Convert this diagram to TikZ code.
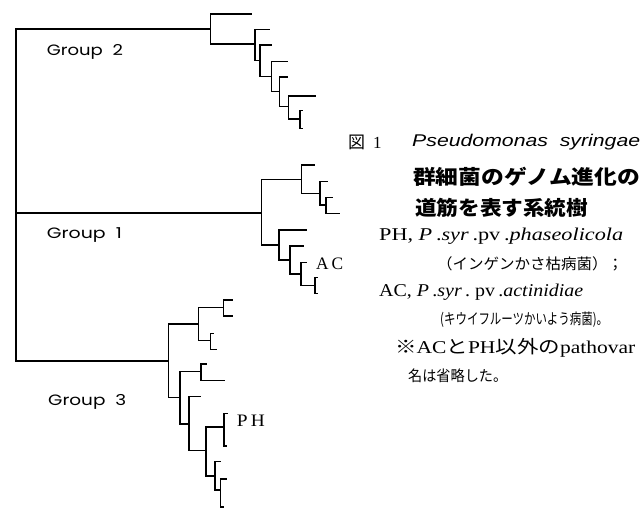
\documentclass[tikz,border=0pt]{standalone}
\usepackage{fontspec}
\usepackage{graphicx}
\setmainfont{Liberation Serif}
\newfontfamily\cjk{Noto Sans CJK JP}
\newfontfamily\grpfont{Poppins}
\newfontfamily\spfont{Liberation Sans}
\newsavebox\fitbox
\newcommand\fitto[2]{\sbox\fitbox{#2}\pgfmathsetmacro\myfitf{#1/\the\wd\fitbox}\scalebox{\myfitf}[1]{\usebox\fitbox}}
\tikzset{
  br/.style={line width=1.5pt, line join=miter},
  lbl/.style={anchor=west, inner sep=0pt},
}
\begin{document}
\begin{tikzpicture}[x=1pt,y=-1pt]
\path[use as bounding box] (0,0) rectangle (643,509);
% root and group stems
\coordinate (R) at (16,213);
\coordinate (G2) at (210.7,29);
\coordinate (G1) at (261.7,213);
\coordinate (G3) at (168.3,361);
% group 2
\coordinate (a1) at (252,14);
\coordinate (nb) at (255,44);
\coordinate (nb1) at (270,29.3);
\coordinate (nc) at (260,60.7);
\coordinate (nc1) at (272.3,45);
\coordinate (nd) at (271.7,76.7);
\coordinate (nd1) at (288.3,61.7);
\coordinate (ne) at (279.3,91.7);
\coordinate (ne1) at (288,77);
\coordinate (nf) at (288.3,106.7);
\coordinate (nf1) at (315.7,96);
\coordinate (ng) at (300,119);
\coordinate (ng1) at (303,110.7);
\coordinate (ng2) at (303,128.3);
% group 1
\coordinate (nh) at (301.7,179.3);
\coordinate (nh1) at (315,165);
\coordinate (ni) at (320,193.3);
\coordinate (ni1) at (328,181.7);
\coordinate (nj) at (326,205);
\coordinate (nj1) at (333,197.7);
\coordinate (nj2) at (340,213.3);
\coordinate (nk) at (279,245);
\coordinate (nk1) at (307.3,230);
\coordinate (nm) at (290,260);
\coordinate (nm1) at (304,246);
\coordinate (nn) at (301,274);
\coordinate (nn1) at (307.3,262.7);
\coordinate (no) at (315,285.7);
\coordinate (no1) at (318,277.7);
\coordinate (no2) at (318,293.3);
% group 3
\coordinate (np) at (198.3,324);
\coordinate (nq) at (223.3,307.3);
\coordinate (nq1) at (233,300);
\coordinate (nq2) at (233,316);
\coordinate (nr) at (210.5,340.7);
\coordinate (nr1) at (214,333.3);
\coordinate (nr2) at (216.5,349.3);
\coordinate (ns) at (180,397.3);
\coordinate (nt) at (201,371.7);
\coordinate (nt1) at (206.7,364);
\coordinate (nt2) at (225,380.7);
\coordinate (nu) at (189,424);
\coordinate (nu1) at (200.7,396.7);
\coordinate (nv) at (206,450.7);
\coordinate (nw) at (224,427);
\coordinate (nw1) at (228,413.3);
\coordinate (nw2) at (227,446);
\coordinate (nx) at (215,476);
\coordinate (nx1) at (221,461.7);
\coordinate (ny) at (220.5,490);
\coordinate (ny1) at (226.7,479);
\coordinate (ny2) at (224,507);
\foreach \p/\c in {R/G2,R/G1,R/G3,
  G2/a1,G2/nb,nb/nb1,nb/nc,nc/nc1,nc/nd,nd/nd1,nd/ne,ne/ne1,ne/nf,nf/nf1,nf/ng,ng/ng1,ng/ng2,
  G1/nh,G1/nk,nh/nh1,nh/ni,ni/ni1,ni/nj,nj/nj1,nj/nj2,nk/nk1,nk/nm,nm/nm1,nm/nn,nn/nn1,nn/no,no/no1,no/no2,
  G3/np,G3/ns,np/nq,np/nr,nq/nq1,nq/nq2,nr/nr1,nr/nr2,ns/nt,ns/nu,nt/nt1,nt/nt2,nu/nu1,nu/nv,nv/nw,nv/nx,nw/nw1,nw/nw2,nx/nx1,nx/ny,ny/ny1,ny/ny2}
  \draw[br] (\p) |- (\c);
% group labels
\node[lbl] (grp2) at (46.7,51.7) {\grpfont\fontsize{15}{15}\selectfont\fitto{76}{Group\ \ 2}};
\node[lbl] (grp1) at (46.7,235) {\grpfont\fontsize{15}{15}\selectfont\fitto{75}{Group\ \ 1}};
\node[lbl] (grp3) at (48,401.7) {\grpfont\fontsize{15}{15}\selectfont\fitto{78}{Group\ \ 3}};
\node[lbl] (ac) at (316,264) {\fontsize{17.5}{17.5}\selectfont\fitto{27}{A\,C}};
\node[lbl] (ph) at (236.7,420.7) {\fontsize{17.5}{17.5}\selectfont\fitto{28}{P\,H}};
% caption
\node[lbl] (l1a) at (348,142) {\fontsize{17}{17}\selectfont{\cjk 図}\hspace{8pt}1};
\node[lbl] (l1b) at (412,142) {\spfont\itshape\fontsize{17}{17}\selectfont\fitto{228}{Pseudomonas\ \ syringae}};
\node[lbl] (l2) at (413,177) {\cjk\bfseries\fontsize{20}{20}\selectfont\fitto{227}{群細菌のゲノム進化の}};
\node[lbl] (l3) at (415,208) {\cjk\bfseries\fontsize{20}{20}\selectfont\fitto{173}{道筋を表す系統樹}};
\node[lbl] (l4) at (379,236) {\fontsize{18}{18}\selectfont\fitto{244}{PH,\ \textit{P}\,.\textit{syr}\,.pv\,.\textit{phaseolicola}}};
\node[lbl] (l5) at (437,264) {\cjk\fontsize{15}{15}\selectfont\fitto{186}{（インゲンかさ枯病菌）；}};
\node[lbl] (l6) at (379,292) {\fontsize{18}{18}\selectfont\fitto{204}{AC,\ \textit{P}\,.\textit{syr}\,.\ pv\,.\textit{actinidiae}}};
\node[lbl] (l7) at (440,320) {\cjk\fontsize{15}{15}\selectfont\fitto{168}{(キウイフルーツかいよう病菌)。}};
\node[lbl] (l8) at (395,348) {\fontsize{18}{18}\selectfont\fitto{240}{{\cjk ※}AC{\cjk と}PH{\cjk 以外の}pathovar}};
\node[lbl] (l9) at (408,376) {\cjk\fontsize{15}{15}\selectfont\fitto{99}{名は省略した。}};
\end{tikzpicture}
\end{document}
